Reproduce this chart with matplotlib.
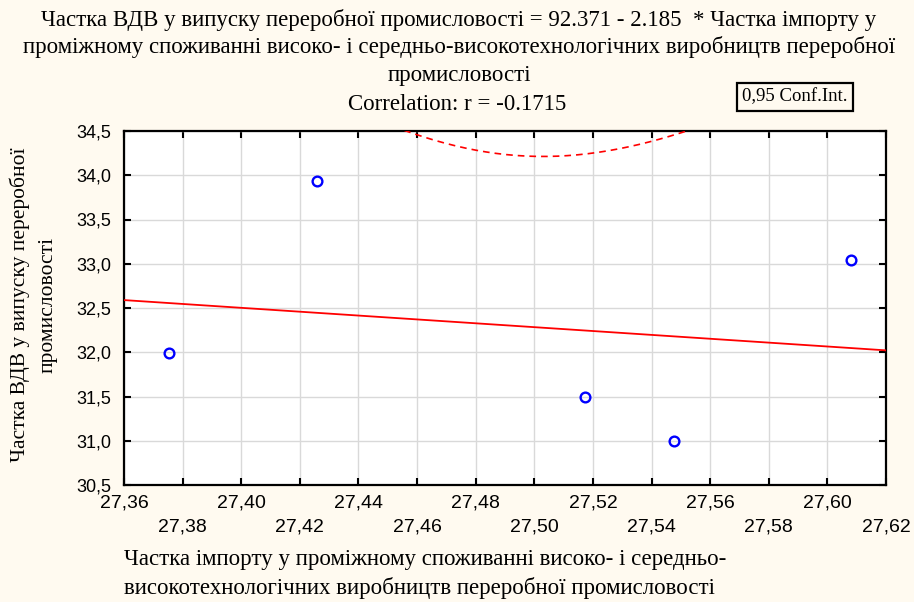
import numpy as np
import matplotlib.pyplot as plt

# data
import_share = [27.3754, 27.4258, 27.5173, 27.5477, 27.6082]
gva_share = [31.99, 33.94, 31.50, 31.00, 33.045]

# regression from the title
intercept = 92.371
slope = -2.185
r_value = -0.1715
t_crit = 3.182446  # t(0.975, df=3)

x_ticks = [27.36, 27.38, 27.40, 27.42, 27.44, 27.46, 27.48, 27.50,
           27.52, 27.54, 27.56, 27.58, 27.60, 27.62]
y_ticks = [30.5, 31.0, 31.5, 32.0, 32.5, 33.0, 33.5, 34.0, 34.5]

title_lines = [
    "Частка ВДВ у випуску переробної промисловості = 92.371 - 2.185  * Частка імпорту у",
    "проміжному споживанні високо- і середньо-високотехнологічних виробництв переробної",
    "промисловості",
]
x_label = ["Частка імпорту у проміжному споживанні високо- і середньо-",
           "високотехнологічних виробництв переробної промисловості"]
y_label = ["Частка ВДВ у випуску переробної", "промисловості"]

bg = "#fffaf0"
serif = ["Liberation Serif", "DejaVu Serif"]
sans = ["Liberation Sans", "DejaVu Sans"]

W, H = 914, 602
fig = plt.figure(figsize=(W / 100, H / 100), dpi=100, facecolor=bg)
ax = fig.add_axes([124 / W, 1 - 485 / H, (886 - 124) / W, (485 - 131) / H])
ax.set_facecolor("white")

x = np.array(import_share)
y = np.array(gva_share)
n = len(x)

# fit line and 95% confidence band of the mean
xs = np.linspace(x_ticks[0], x_ticks[-1], 300)
fit = intercept + slope * xs
resid = y - (intercept + slope * x)
s = np.sqrt(np.sum(resid ** 2) / (n - 2))
sxx = np.sum((x - x.mean()) ** 2)
half = t_crit * s * np.sqrt(1 / n + (xs - x.mean()) ** 2 / sxx)

ax.plot(xs, fit, color="red", lw=1.3, zorder=3)
ax.plot(xs, fit + half, color="red", lw=1.2, ls=(0, (4, 3)), zorder=3)
ax.plot(xs, fit - half, color="red", lw=1.2, ls=(0, (4, 3)), zorder=3)
ax.plot(x, y, "o", ms=7, mfc="none", mec="blue", mew=1.7, zorder=4)

ax.set_xlim(x_ticks[0], x_ticks[-1])
ax.set_ylim(y_ticks[0], y_ticks[-1])
ax.set_xticks(x_ticks)
ax.set_yticks(y_ticks)
ax.set_xticklabels([("" if i % 2 == 0 else "\n") + f"{v:.2f}".replace(".", ",")
                    for i, v in enumerate(x_ticks)])
ax.set_yticklabels([f"{v:.1f}".replace(".", ",") for v in y_ticks])
for lab in ax.get_xticklabels():
    lab.set_family(sans)
    lab.set_fontsize(14)
    lab.set_linespacing(1.5)
for lab in ax.get_yticklabels():
    lab.set_family(sans)
    lab.set_fontsize(13)

ax.tick_params(direction="in", length=5, width=1.5, top=True, right=True,
               colors="black")
ax.tick_params(axis="x", pad=7)
ax.tick_params(axis="y", pad=9)
ax.grid(True, color="#d9d9d9", lw=1)
ax.set_axisbelow(True)
for sp in ax.spines.values():
    sp.set_linewidth(1.6)
    sp.set_color("black")

# titles
for i, line in enumerate(title_lines):
    fig.text(459 / W, 1 - (20 + 27.5 * i) / H, line, ha="center", va="center",
             family=serif, fontsize=16.5)
fig.text(457 / W, 1 - 105 / H, f"Correlation: r = {r_value}", ha="center",
         va="center", family=serif, fontsize=16.5)
fig.text(795 / W, 1 - 97 / H, "0,95 Conf.Int.", ha="center", va="center",
         family=serif, fontsize=13.5,
         bbox=dict(boxstyle="square,pad=0.3", fc=bg, ec="black", lw=1.6))

fig.text(124 / W, 1 - 560 / H, x_label[0], ha="left", va="center",
         family=serif, fontsize=16.5)
fig.text(124 / W, 1 - 588 / H, x_label[1], ha="left", va="center",
         family=serif, fontsize=16.5)
fig.text(20 / W, 1 - 305 / H, y_label[0], ha="center", va="center",
         rotation=90, family=serif, fontsize=15.5)
fig.text(48 / W, 1 - 305 / H, y_label[1], ha="center", va="center",
         rotation=90, family=serif, fontsize=15.5)

fig.savefig("out.png", dpi=100, facecolor=bg)
